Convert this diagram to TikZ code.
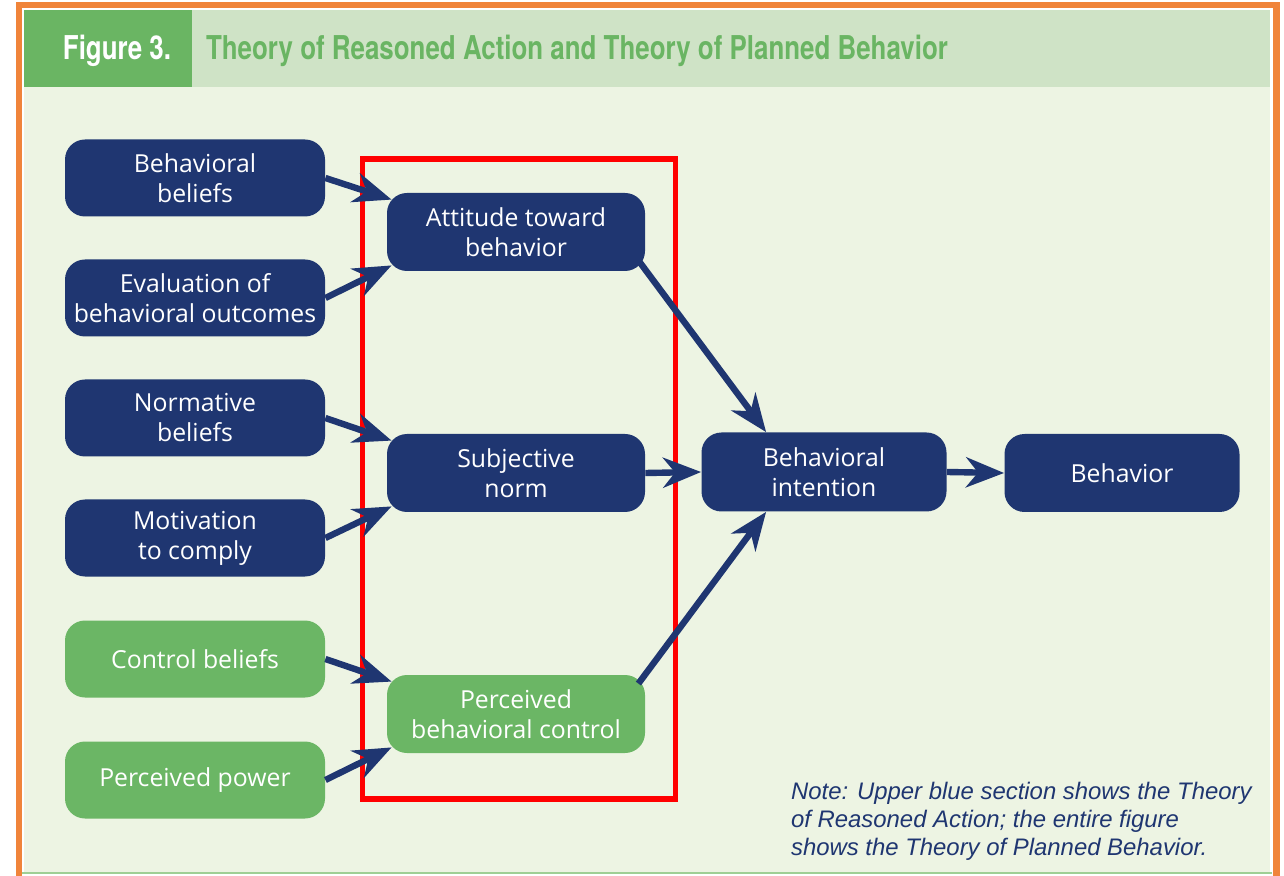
\documentclass[tikz,border=0pt]{standalone}
\usepackage{fontspec}
\usetikzlibrary{arrows.meta,calc}

\newfontfamily\headfont[FakeStretch=0.79]{TeX Gyre Heros}
\newfontfamily\boxfont{Open Sans}
\newfontfamily\notefont{Liberation Sans}

\definecolor{navy}{HTML}{1F3671}
\definecolor{boxgreen}{HTML}{6BB665}
\definecolor{headdark}{HTML}{6AB563}
\definecolor{headlight}{HTML}{CFE3C6}
\definecolor{panel}{HTML}{EDF4E3}
\definecolor{frameorange}{HTML}{F0843A}
\definecolor{rulegreen}{HTML}{9FCF95}

\tikzset{
  navybox/.style={rectangle, rounded corners=10pt, fill=navy, text=white,
    align=center, inner sep=0pt, minimum width=130pt, minimum height=38.5pt,
    font=\boxfont\fontsize{12.4}{15}\selectfont},
  greenbox/.style={navybox, fill=boxgreen},
  arr/.style={draw=navy, line width=3.2pt,
    -{Stealth[length=19pt, width=15pt, inset=6pt]}},
}

\begin{document}
\begin{tikzpicture}[x=0.5pt, y=-0.5pt]
  \useasboundingbox (0,0) rectangle (1284,876);
  % frame and panels
  \fill[white] (0,0) rectangle (1284,876);
  \fill[frameorange] (16,2) rectangle (1280,880);
  \fill[white] (22,8) rectangle (1273,880);
  \fill[headlight] (24,10) rectangle (1270,87);
  \fill[headdark] (24,10) rectangle (192,87);
  \fill[panel] (24,87) rectangle (1270,872);
  \draw[rulegreen, line width=1pt] (22,873) -- (1272,873);

  % heading
  \node[text=white, font=\headfont\bfseries\fontsize{16.4}{19}\selectfont]
    (fignum) at (117,51) {Figure 3.};
  \node[anchor=west, text=headdark, font=\headfont\bfseries\fontsize{16.4}{19}\selectfont]
    (title) at (199,51) {Theory of Reasoned Action and Theory of Planned Behavior};

  % left column
  \node[navybox] (bb)   at (195,178) {Behavioral\\beliefs};
  \node[navybox] (eval) at (195,298) {Evaluation of\\behavioral outcomes};
  \node[navybox] (nb)   at (195,418) {Normative\\beliefs};
  \node[navybox] (mot)  at (195,538) {Motivation\\to comply};
  \node[greenbox] (cb)  at (195,659) {Control beliefs};
  \node[greenbox] (pp)  at (195,780) {Perceived power};

  % middle column
  \node[navybox, minimum width=129pt, minimum height=39pt] (att) at (516,232) {Attitude toward\\behavior};
  \node[navybox, minimum width=129pt, minimum height=39pt] (sub) at (516,473) {Subjective\\norm};
  \node[greenbox, minimum width=129pt, minimum height=39pt] (pbc) at (516,714) {Perceived\\behavioral control};

  % right side
  \node[navybox, minimum width=122.5pt, minimum height=39.5pt] (int) at (824,472) {Behavioral\\intention};
  \node[navybox, minimum width=117.5pt, minimum height=39pt] (beh) at (1122,473) {Behavior};

  % highlight frame
  \draw[red, line width=2.8pt] (362.5,159) rectangle (675.5,799);

  % connectors
  \draw[arr] (bb.east)   -- ($(att.north west)+(5,7)$);
  \draw[arr] (eval.east) -- ($(att.south west)+(5,-6)$);
  \draw[arr] (nb.east)   -- ($(sub.north west)+(5,7)$);
  \draw[arr] (mot.east)  -- ($(sub.south west)+(5,-6)$);
  \draw[arr] (cb.east)   -- ($(pbc.north west)+(5,7)$);
  \draw[arr] (pp.east)   -- ($(pbc.south west)+(5,-6)$);
  \draw[arr] ($(att.south east)+(-7,-11)$) -- ($(int.north west)+(65,0)$);
  \draw[arr] (sub.east) -- (int.west);
  \draw[arr] ($(pbc.north east)+(-7,9)$) -- ($(int.south west)+(65,0)$);
  \draw[arr] (int.east) -- (beh.west);

  % note
  \node[anchor=north west, align=left, text=navy,
    font=\notefont\itshape\fontsize{11.95}{14}\selectfont] (note) at (784,775)
    {Note: Upper blue section shows the Theory\\
     of Reasoned Action; the entire figure\\
     shows the Theory of Planned Behavior.};
\end{tikzpicture}
\end{document}
